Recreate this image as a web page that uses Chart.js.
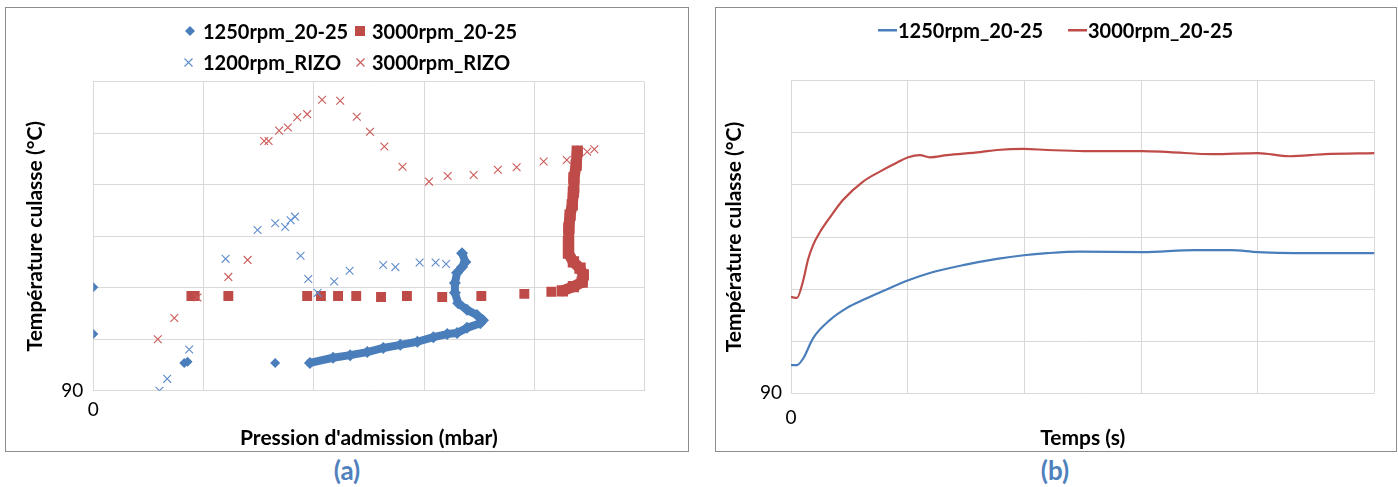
<!DOCTYPE html>
<html>
<head>
<meta charset="utf-8">
<script src="https://cdn.jsdelivr.net/npm/chart.js@4.4.0/dist/chart.umd.min.js"></script>
<style>
  body { margin: 0; background: #fff; width: 1398px; height: 487px; position: relative; overflow: hidden; font-family: Lato, sans-serif; }
  .frame { position: absolute; border: 1px solid #8c8c8c; box-sizing: border-box; }
  canvas { position: absolute; }
  .lt { position: absolute; font: bold 20px Lato; line-height: 24px; color: #000; white-space: nowrap; }
  .mk { position: absolute; }
  .cap { position: absolute; font: bold 26px Lato; line-height: 26px; color: #4f81bd; transform: translateX(-50%); }
</style>
</head>
<body>
<div class="frame" style="left:5px;top:7px;width:684px;height:445px"></div>
<div class="frame" style="left:715px;top:7px;width:682px;height:445px"></div>

<canvas id="chartA" width="682" height="443" style="left:6px;top:8px"></canvas>
<canvas id="chartB" width="680" height="443" style="left:716px;top:8px"></canvas>

<!-- legend (a) -->
<svg class="mk" style="left:185px;top:26px" width="10" height="10"><path d="M5 0 L10 5 L5 10 L0 5 Z" fill="#4a7ebb"/></svg>
<span class="lt" style="left:203px;top:18.5px">1250rpm_20-25</span>
<svg class="mk" style="left:355px;top:26px" width="10" height="10"><rect width="10" height="10" fill="#be4b48"/></svg>
<span class="lt" style="left:372px;top:18.5px">3000rpm_20-25</span>
<svg class="mk" style="left:184px;top:58px" width="9" height="9"><path d="M0.5 0.5 L8.5 8.5 M8.5 0.5 L0.5 8.5" stroke="#5f8ccc" stroke-width="1.1"/></svg>
<span class="lt" style="left:203px;top:50px">1200rpm_RIZO</span>
<svg class="mk" style="left:356px;top:58px" width="9" height="9"><path d="M0.5 0.5 L8.5 8.5 M8.5 0.5 L0.5 8.5" stroke="#cc5a58" stroke-width="1.1"/></svg>
<span class="lt" style="left:372px;top:50px">3000rpm_RIZO</span>

<!-- legend (b) -->
<svg class="mk" style="left:878px;top:29px" width="19" height="3"><rect width="19" height="2.5" fill="#4a7ebb"/></svg>
<span class="lt" style="left:898px;top:18px">1250rpm_20-25</span>
<svg class="mk" style="left:1068px;top:29px" width="19" height="3"><rect width="19" height="2.5" fill="#be4b48"/></svg>
<span class="lt" style="left:1088px;top:18px">3000rpm_20-25</span>

<div class="cap" style="left:347px;top:457px">(a)</div>
<div class="cap" style="left:1055px;top:457px">(b)</div>

<script>
// ---- (a) Température culasse vs pression d'admission ----
// 1250rpm_20-25, isolated diamonds
const p1250 = [0, 0, 165, 171, 330];
const t1250 = [110.1, 101.0, 95.4, 95.6, 95.4];
// 1250rpm_20-25, dense part of the run (overlapping diamonds)
const p1250run = [393, 435, 466, 497, 526, 557, 588, 617, 642, 660, 678, 702, 707, 696, 678, 662, 656, 656, 660, 669, 675, 669];
const t1250run = [95.4, 96.4, 96.9, 97.5, 98.3, 98.9, 99.5, 100.4, 101.0, 101.2, 102.2, 103.1, 103.7, 104.7, 105.7, 107.0, 109.0, 110.9, 112.9, 114.0, 115.0, 116.7];

// 3000rpm_20-25, isolated squares
const p3000 = [178, 184, 245, 388, 413, 444, 477, 522, 569, 633, 704, 782, 831];
const t3000 = [108.4, 108.4, 108.4, 108.4, 108.4, 108.4, 108.4, 108.2, 108.4, 108.2, 108.4, 108.8, 109.2];
// 3000rpm_20-25, dense part
const p3000run = [851, 871, 887, 889, 883, 871, 862, 862, 863, 865, 869, 871, 872, 876, 878];
const t3000run = [109.4, 110.2, 111.1, 112.5, 113.8, 115.0, 116.7, 118.9, 121.6, 124.1, 126.1, 128.6, 131.3, 133.8, 136.5];

// 1200rpm_RIZO
const p1200rizo = [120, 134, 174, 240, 298, 330, 348, 358, 366, 376, 390, 407, 437, 465, 526, 548, 592, 621, 640];
const t1200rizo = [90.0, 92.3, 98.0, 115.6, 121.2, 122.5, 121.8, 123.1, 123.8, 116.2, 111.7, 109.0, 111.2, 113.3, 114.4, 114.0, 114.9, 114.9, 114.6];

// 3000rpm_RIZO
const p3000rizo = [117, 147, 189, 245, 280, 310, 318, 337, 353, 370, 388, 415, 448, 478, 502, 528, 561, 609, 643, 690, 734, 768, 817, 859, 896, 909];
const t3000rizo = [100.0, 104.1, 108.1, 112.1, 115.4, 138.5, 138.5, 140.5, 141.1, 143.1, 143.7, 146.5, 146.3, 143.2, 140.3, 137.4, 133.5, 130.6, 131.7, 131.9, 132.9, 133.4, 134.5, 134.8, 136.4, 136.9];

// ---- (b) Température culasse vs temps ----
const s1250 = [0, 10, 21, 38, 67, 96, 123, 153, 201, 238, 295, 353, 399, 439, 495, 602, 692, 754, 800, 915, 1000];
const temp1250 = [95.4, 95.4, 96.7, 100.6, 104.1, 106.4, 107.9, 109.4, 111.7, 113.1, 114.6, 115.8, 116.5, 116.9, 117.2, 117.1, 117.5, 117.5, 117.1, 116.9, 116.9];
const s3000 = [0, 10, 21, 29, 38, 50, 67, 89, 123, 153, 182, 201, 221, 238, 267, 324, 353, 399, 439, 502, 602, 648, 723, 800, 854, 915, 1000];
const temp3000 = [108.5, 108.3, 111.7, 115.6, 118.5, 121.0, 123.8, 127.1, 130.6, 132.6, 134.3, 135.3, 135.7, 135.3, 135.7, 136.3, 136.7, 136.9, 136.7, 136.5, 136.5, 136.3, 135.9, 136.1, 135.5, 135.9, 136.1];

const BLUE = '#4a7ebb';
const RED = '#be4b48';
const BLUE_X = '#5f8ccc';
const RED_X = '#cc5a58';
const GRID = '#d9d9d9';

function pts(xs, ys) { return xs.map((x, i) => ({ x: x, y: ys[i] })); }

Chart.defaults.font.family = 'Lato';
Chart.defaults.color = '#000';

function axes(o) {
  return {
    x: {
      type: 'linear', min: 0, max: 1000,
      ticks: { stepSize: 200, padding: o.xPad, font: { size: 19 }, color: '#000',
        callback: v => (v === 0 ? '0' : '') },
      grid: { color: GRID, drawTicks: false },
      border: { display: false },
      title: { display: true, text: o.xTitle, font: { size: 21, weight: 'bold' }, color: '#000',
        padding: { top: 0, bottom: o.xTitlePad } },
      afterFit: s => { s.height = o.xH; }
    },
    y: {
      type: 'linear', min: 90, max: 150,
      ticks: { stepSize: 10, padding: o.yPad, font: { size: 19 }, color: '#000',
        callback: v => (v === 90 ? '90' : '') },
      grid: { color: GRID, drawTicks: false },
      border: { display: false },
      title: { display: true, text: 'Température culasse (°C)', font: { size: 21, weight: 'bold' }, color: '#000',
        padding: { top: o.yTitlePad, bottom: 0 } },
      afterFit: s => { s.width = o.yW; }
    }
  };
}

new Chart(document.getElementById('chartA'), {
  type: 'scatter',
  data: {
    datasets: [
      { label: '3000rpm_RIZO', data: pts(p3000rizo, t3000rizo), pointStyle: 'crossRot', pointRadius: 5.5,
        pointBorderWidth: 1.1, borderColor: RED_X, backgroundColor: RED_X },
      { label: '1200rpm_RIZO', data: pts(p1200rizo, t1200rizo), pointStyle: 'crossRot', pointRadius: 5.5,
        pointBorderWidth: 1.1, borderColor: BLUE_X, backgroundColor: BLUE_X },
      { label: '3000rpm_20-25', data: pts(p3000, t3000), pointStyle: 'rect', pointRadius: 7,
        pointBorderWidth: 0, backgroundColor: RED, borderColor: RED },
      { label: '3000rpm_20-25 run', data: pts(p3000run, t3000run), showLine: true, borderWidth: 11,
        borderColor: RED, borderJoinStyle: 'round', borderCapStyle: 'round',
        pointStyle: 'rect', pointRadius: 8, pointBorderWidth: 0, backgroundColor: RED },
      { label: '1250rpm_20-25', data: pts(p1250, t1250), pointStyle: 'rectRot', pointRadius: 5,
        pointBorderWidth: 0, backgroundColor: BLUE, borderColor: BLUE },
      { label: '1250rpm_20-25 run', data: pts(p1250run, t1250run), showLine: true, borderWidth: 8,
        borderColor: BLUE, borderJoinStyle: 'round', borderCapStyle: 'round',
        pointStyle: 'rectRot', pointRadius: 6, pointBorderWidth: 0, backgroundColor: BLUE }
    ]
  },
  options: {
    responsive: false,
    animation: false,
    layout: { padding: { top: 73.7, right: 43.5, left: 0, bottom: 0 } },
    plugins: { legend: { display: false }, tooltip: { enabled: false } },
    scales: axes({ xTitle: "Pression d'admission (mbar)", xPad: 8, xH: 60.3, xTitlePad: 0.4,
      yPad: 10, yW: 87.3, yTitlePad: 16.4 })
  }
});

new Chart(document.getElementById('chartB'), {
  type: 'scatter',
  data: {
    datasets: [
      { label: '1250rpm_20-25', data: pts(s1250, temp1250), showLine: true, borderColor: BLUE,
        backgroundColor: BLUE, borderWidth: 2.2, pointRadius: 0, cubicInterpolationMode: 'monotone' },
      { label: '3000rpm_20-25', data: pts(s3000, temp3000), showLine: true, borderColor: RED,
        backgroundColor: RED, borderWidth: 2.2, pointRadius: 0, cubicInterpolationMode: 'monotone' }
    ]
  },
  options: {
    responsive: false,
    animation: false,
    layout: { padding: { top: 72.7, right: 21.5, left: 0, bottom: 0 } },
    plugins: { legend: { display: false }, tooltip: { enabled: false } },
    scales: axes({ xTitle: 'Temps (s)', xPad: 13.3, xH: 57.7, xTitlePad: 0,
      yPad: 9, yW: 75, yTitlePad: 5.4 })
  }
});
</script>
</body>
</html>
